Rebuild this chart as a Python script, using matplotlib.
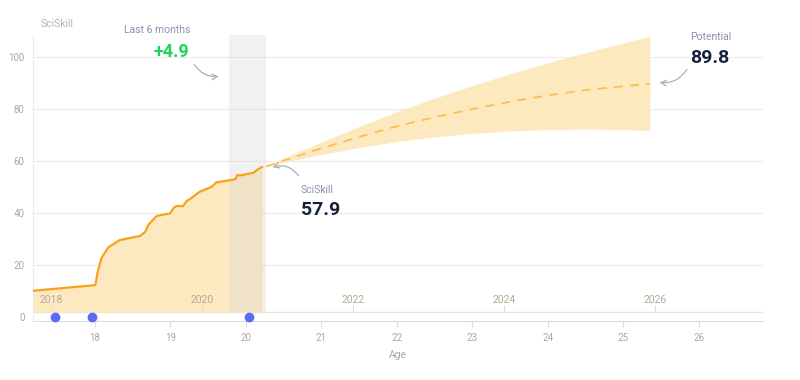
import numpy as np
import matplotlib.pyplot as plt

plt.rcParams['font.family'] = ['Roboto', 'DejaVu Sans']

# history: age -> SciSkill
hist_age = [17.18, 18.01, 18.04, 18.09, 18.18, 18.33, 18.60, 18.67, 18.71, 18.82,
            19.00, 19.04, 19.08, 19.17, 19.22, 19.26, 19.39, 19.55, 19.61, 19.86,
            19.89, 19.93, 20.10, 20.16, 20.22]
hist_val = [10.2, 12.4, 17.5, 22.8, 26.9, 29.7, 31.3, 32.9, 35.5, 39.0,
            40.0, 41.9, 42.8, 42.8, 44.8, 45.4, 48.3, 50.2, 51.9, 53.1,
            54.7, 54.6, 55.6, 56.9, 57.9]

# forecast
fc_age = [20.27, 20.5, 21.0, 21.5, 22.0, 22.5, 23.0, 23.5, 24.0, 24.5, 25.0, 25.35]
fc_mean = [58.0, 60.3, 65.0, 69.4, 73.5, 77.0, 80.1, 82.9, 85.4, 87.4, 88.9, 89.8]
fc_low = [58.0, 59.6, 62.6, 65.3, 67.6, 69.4, 70.8, 71.7, 72.2, 72.4, 72.2, 71.8]
fc_high = [58.0, 61.2, 67.4, 73.4, 79.2, 84.3, 89.1, 93.7, 97.9, 101.8, 105.5, 108.2]

event_age = [17.47, 17.97, 20.05]
last6_start, last6_end = 19.78, 20.27
years = [2018, 2020, 2022, 2024, 2026]
year_offset = 2000.58
age_ticks = [18, 19, 20, 21, 22, 23, 24, 25, 26]
y_ticks = [0, 20, 40, 60, 80, 100]

orange = '#f7a21b'
fill_c = '#fde9c0'
grey_txt = '#a8a8a8'
label_c = '#8a93a8'
navy = '#16223d'
base = 2.0
ymin, ymax = -1.4, 108.6

fig = plt.figure(figsize=(8, 3.8), dpi=100)
ax = fig.add_axes([0.0409, 0.1553, 0.913, 0.7526])
ax.set_xlim(17.18, 26.85)
ax.set_ylim(ymin, ymax)

# gridlines
ax.hlines(y_ticks[1:], 17.18, 26.85, color='#ececec', lw=0.8, zorder=0)
ax.axhline(base, color='#e2e2e2', lw=1.0, zorder=1)

# history fill + line
ax.fill_between(hist_age, base, hist_val, color=fill_c, lw=0, zorder=1)
ax.plot(hist_age, hist_val, color=orange, lw=1.6, zorder=4,
        solid_capstyle='round', solid_joinstyle='round')

# forecast
ax.fill_between(fc_age, fc_low, fc_high, color=fill_c, lw=0, zorder=1)
ax.plot(fc_age, fc_mean, color='#fbbf4a', lw=1.3, ls=(0, (5, 4)), zorder=3)

# last 6 months band
ax.axvspan(last6_start, last6_end, ymin=(base - ymin) / (ymax - ymin), ymax=1,
           color='#d5d5d5', alpha=0.33, lw=0, zorder=2)

# events
ax.plot(event_age, [0] * len(event_age), 'o', color='#5a6cf6', ms=6, zorder=5, clip_on=False)

# spines and ticks
for s in ['top', 'right']:
    ax.spines[s].set_visible(False)
ax.spines['left'].set_color('#ececec')
ax.spines['bottom'].set_color('#dcdcdc')
ax.set_yticks(y_ticks)
ax.set_xticks(age_ticks)
ax.tick_params(axis='y', length=0, pad=6, labelsize=7, labelcolor=grey_txt)
ax.tick_params(axis='x', length=4, color='#dcdcdc', pad=5, labelsize=7, labelcolor=grey_txt)
ax.set_xlabel('Age', fontsize=7.5, color=grey_txt, labelpad=5)

# calendar year axis
sec = ax.secondary_xaxis((base - ymin) / (ymax - ymin),
                         functions=(lambda a: a + year_offset, lambda y: y - year_offset))
sec.set_zorder(6)
sec.set_xticks(years)
sec.xaxis.set_ticks_position('top')
for s in sec.spines.values():
    s.set_visible(False)
sec.tick_params(axis='x', direction='out', length=5, color='#dcdcdc', pad=0.5,
                labelsize=7.5, labelcolor='#b3ab98')

# annotations
ax.text(17.28, 112.8, 'SciSkill', fontsize=7.5, color='#b5b5b5', va='center')
ax.text(18.83, 110.5, 'Last 6 months', fontsize=7.5, color=label_c, ha='center', va='center')
ax.text(19.02, 102.0, '+4.9', fontsize=13, color='#1fd35a', weight='bold', ha='center', va='center')
ax.annotate('', xy=(19.68, 92.8), xytext=(19.30, 98.2),
            arrowprops=dict(arrowstyle='->', color='#b0b0b0', lw=0.9,
                            connectionstyle='arc3,rad=0.35'))

ax.text(20.73, 49.0, 'SciSkill', fontsize=7.5, color=label_c, va='center')
ax.text(20.73, 41.3, '57.9', fontsize=14, color=navy, weight='bold', va='center')
ax.annotate('', xy=(20.32, 57.4), xytext=(20.72, 53.6),
            arrowprops=dict(arrowstyle='->', color='#b0b0b0', lw=0.9,
                            connectionstyle='arc3,rad=0.4'))

ax.text(25.88, 107.8, 'Potential', fontsize=7.5, color=label_c, va='center', clip_on=False)
ax.text(25.88, 99.7, '89.8', fontsize=14, color=navy, weight='bold', va='center')
ax.annotate('', xy=(25.44, 90.5), xytext=(25.86, 96.3),
            arrowprops=dict(arrowstyle='->', color='#b0b0b0', lw=0.9,
                            connectionstyle='arc3,rad=-0.35'))

fig.savefig('out.png', dpi=100)
